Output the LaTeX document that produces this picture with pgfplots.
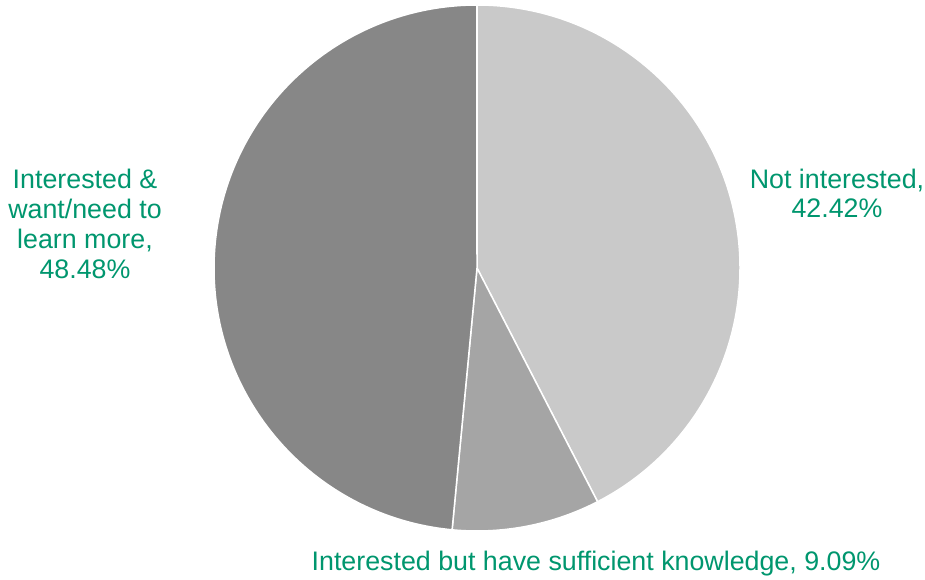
\documentclass[border=0pt]{standalone}
\usepackage{pgfplots}
\pgfplotsset{compat=1.18}
\usepackage{pgfplotstable}
\usepackage{fontspec}
\setmainfont{Liberation Sans}
\definecolor{lblgreen}{RGB}{0,150,110}
\definecolor{sliceA}{RGB}{201,201,201}
\definecolor{sliceB}{RGB}{165,165,165}
\definecolor{sliceC}{RGB}{135,135,135}
\pgfplotstableread{
id value
0 42.42
1 9.09
2 48.48
}\piedata
\begin{document}
\begin{tikzpicture}
\pgfplotstablegetelem{0}{value}\of\piedata \let\va\pgfplotsretval
\pgfplotstablegetelem{1}{value}\of\piedata \let\vb\pgfplotsretval
\pgfplotstablegetelem{2}{value}\of\piedata \let\vc\pgfplotsretval
\pgfmathsetmacro\aA{90}
\pgfmathsetmacro\aB{90-3.6*\va}
\pgfmathsetmacro\aC{\aB-3.6*\vb}
\pgfmathsetmacro\aD{\aC-3.6*\vc}
\begin{axis}[width=925pt,height=579pt,scale only axis,hide axis,
  xmin=0,xmax=925,ymin=0,ymax=579,clip=false]
\path (axis cs:0,0) rectangle (axis cs:925,579);
\fill[sliceA,draw=white,line width=1.5pt,line join=round] (axis cs:477,311) -- ++(\aA:263pt) arc[start angle=\aA,end angle=\aB,radius=263pt] -- cycle;
\fill[sliceB,draw=white,line width=1.5pt,line join=round] (axis cs:477,311) -- ++(\aB:263pt) arc[start angle=\aB,end angle=\aC,radius=263pt] -- cycle;
\fill[sliceC,draw=white,line width=1.5pt,line join=round] (axis cs:477,311) -- ++(\aC:263pt) arc[start angle=\aC,end angle=\aD,radius=263pt] -- cycle;
\node[anchor=base,inner sep=0pt,align=center,text=lblgreen,font=\fontsize{26.8}{29.5}\selectfont] at (axis cs:837,361) {Not interested,\\42.42\%};
\node[anchor=base,inner sep=0pt,align=center,text=lblgreen,font=\fontsize{26.8}{30}\selectfont] at (axis cs:85,301) {Interested \&\\want/need to\\learn more,\\48.48\%};
\node[anchor=base,inner sep=0pt,align=center,text=lblgreen,font=\fontsize{26.8}{30}\selectfont] at (axis cs:596,9) {Interested but have sufficient knowledge, 9.09\%};
\end{axis}
\end{tikzpicture}
\end{document}
